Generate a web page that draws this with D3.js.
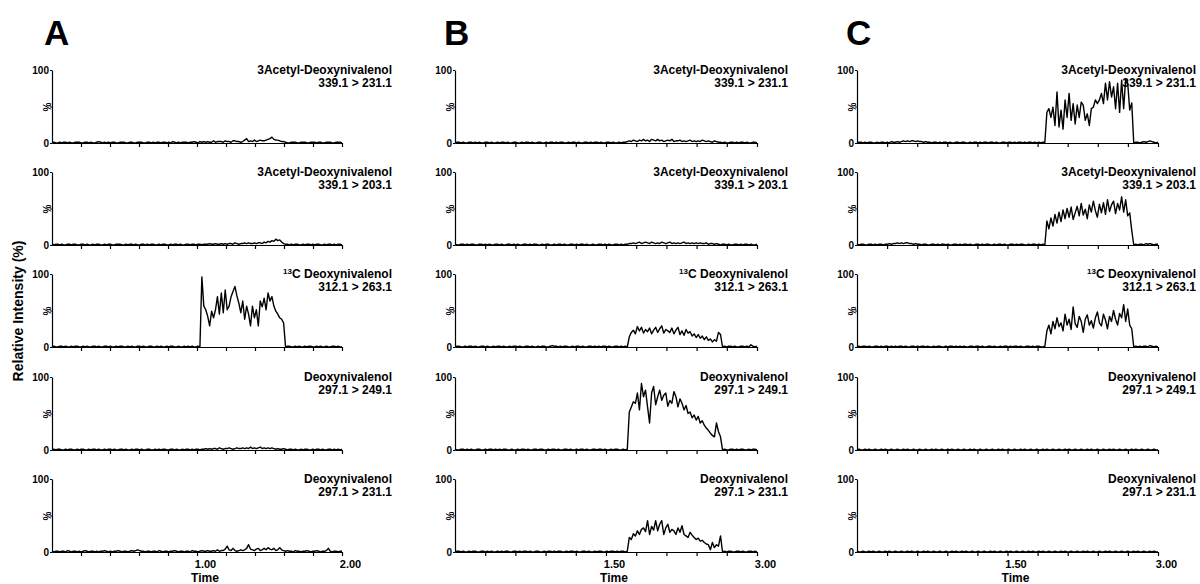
<!doctype html>
<html>
<head>
<meta charset="utf-8">
<style>
    body { margin: 0; background: #fff; }
    svg { font-family: "Liberation Sans", Arial, sans-serif; }
    .trace { fill: none; stroke: #000; stroke-width: 1.4px; stroke-linejoin: round; }
    .axis path, .axis line { stroke: #000; stroke-width: 1.2px; }
    .axis text { font-weight: bold; fill: #000; }
</style>
<script src="https://d3js.org/d3.v7.min.js"></script>
</head>
<body>
<svg width="1200" height="584"></svg>
<script>

var panelLetters = ["A", "B", "C"];
var timeMax = [2, 3, 3];
var labelTicks = [[1, 2], [1.5, 3], [1.5, 3]];
var yTicks = [0, 50, 100];
var compounds = ["3Acetyl-Deoxynivalenol", "3Acetyl-Deoxynivalenol", "13C Deoxynivalenol", "Deoxynivalenol", "Deoxynivalenol"];
var transitions = ["339.1 > 231.1", "339.1 > 203.1", "312.1 > 263.1", "297.1 > 249.1", "297.1 > 231.1"];

var traceA1 = [
    1,1,0,0,1,0,1,1,0,1, 0,0,1,1,1,0,0,1,1,0, 1,0,0,1,2,1,0,1,0,1, 0,1,1,0,0,1,1,1,0,0,
    1,1,0,0,1,1,1,0,0,1, 1,0,1,0,1,1,0,1,1,0, 1,0,2,1,0,1,0,1,1,1, 0,1,1,2,1,0,2,1,2,1,
    2,1,1,3,1,2,2,2,1,3, 2,2,1,3,3,2,2,1,2,4, 6,2,3,2,4,2,3,4,3,3, 4,5,6,8,5,4,4,3,2,2,
    1,0,0,1,1,1,0,0,1,1, 1,0,0,1,1,1,0,1,1,0, 0,1,1,1,0,0,1,1,1,0];
var traceA2 = [
    1,0,1,1,0,1,0,0,1,1, 0,1,1,0,0,1,1,0,1,0, 0,1,0,1,1,0,0,1,0,1, 1,0,0,1,1,1,0,0,1,0,
    1,1,0,1,0,0,1,1,0,1, 0,1,1,0,0,1,0,1,1,0, 0,1,0,1,1,0,1,0,0,1, 1,0,1,1,0,1,1,0,1,1,
    1,2,1,1,2,1,1,2,1,2, 1,2,2,1,3,2,1,2,2,3, 2,3,2,2,3,2,3,3,2,4, 3,5,4,6,5,8,6,7,4,2,
    1,1,0,1,0,1,1,0,0,1, 0,1,1,0,1,0,1,1,0,0, 1,0,1,1,0,1,0,1,1,0];
var traceA3 = [
    0,1,0,0,1,1,0,1,0,0, 1,0,1,1,0,0,1,0,1,0, 0,1,1,0,1,0,0,1,1,0, 1,0,0,1,0,1,1,0,0,1,
    0,1,0,0,1,1,0,1,0,0, 1,1,0,0,1,0,1,0,0,1, 0,1,1,0,0,1,0,0,1,0, 1,0,1,0,0,1,0,
    96,56,51,42,29,49,40,51,69,45, 74,47,78,51,56,69,76,83,70,60, 47,63,38,56,45,29,56,40,51,29,
    63,55,67,51,74,63,69,56,49,45, 40,38,33,
    0,1,1,0,0,1,0,1,0,0, 1,0,1,1,0,0,1,0,1,0, 0,1,0,0,1,1,0,1,0,0];
var traceA4 = [
    0,1,0,1,1,0,0,1,0,1, 1,0,0,1,0,1,1,0,0,1, 0,1,1,0,1,0,0,1,0,1, 1,0,1,0,0,1,1,0,1,0,
    0,1,0,1,1,0,1,0,0,1, 1,0,0,1,0,1,0,1,1,0, 0,1,1,0,1,0,0,1,0,1, 1,0,1,0,1,1,0,1,1,2,
    1,2,1,2,2,1,3,2,1,2, 2,3,2,1,2,3,2,2,3,2, 3,2,4,2,3,2,3,4,2,3, 2,3,2,3,2,1,2,1,1,2,
    1,0,1,1,0,1,0,0,1,0, 1,1,0,0,1,0,1,1,0,1, 0,0,1,1,0,1,0,1,0,1];
var traceA5 = [
    1,0,1,1,0,1,1,0,2,1, 0,1,1,0,1,0,1,2,1,0, 1,1,0,1,0,1,1,2,1,0, 1,0,1,1,2,1,0,1,1,0,
    1,2,1,2,3,2,1,1,0,1, 1,0,1,1,0,2,1,0,1,1, 0,1,1,2,1,0,1,1,0,1, 1,0,2,1,1,0,1,2,1,1,
    2,1,1,2,1,3,1,2,2,4, 8,3,2,5,2,1,2,3,2,3, 5,10,4,3,2,4,5,2,3,5, 3,6,4,3,5,2,3,6,3,2,
    1,2,1,1,0,2,1,1,0,1, 1,2,1,0,1,1,2,1,0,1, 1,2,5,1,0,1,1,0,1,1];

var traceB1 = [
    0,1,1,0,1,0,0,1,1,0, 1,0,1,0,0,1,1,0,1,0, 0,1,0,1,1,0,1,0,0,1, 1,0,0,1,0,1,1,0,1,0,
    0,1,1,0,0,1,0,1,1,0, 1,0,1,1,0,0,1,0,1,1, 0,1,0,0,1,1,0,1,0,1, 1,0,1,0,0,1,1,0,1,0,
    0,1,0,1,1,2,3,2,4,3, 2,4,3,5,3,4,2,5,4,3, 5,3,4,2,3,4,3,5,2,3, 3,4,2,3,2,3,4,2,3,2,
    3,2,4,3,2,3,2,1,3,2, 1,1,0,1,0,0,1,1,0,1, 0,1,1,0,1,0,0,1,1,0];
var traceB2 = [
    1,0,0,1,1,0,1,0,1,1, 0,0,1,1,0,1,0,1,0,0, 1,1,0,1,0,0,1,1,0,1, 0,1,0,0,1,1,0,1,0,1,
    1,0,0,1,0,1,1,0,0,1, 0,1,1,0,1,0,0,1,1,0, 1,0,1,1,0,1,0,0,1,0, 0,1,1,0,1,0,1,0,0,1,
    1,0,1,0,1,1,2,2,3,2, 3,4,2,3,4,3,2,4,3,2, 3,2,4,3,2,3,4,2,3,2, 3,2,3,4,2,3,2,3,2,3,
    2,3,2,2,3,1,2,2,1,2, 1,0,1,1,0,1,0,0,1,1, 0,1,0,1,1,0,1,0,0,1];
var traceB3 = [
    0,1,1,0,0,1,0,1,1,0, 1,0,0,1,1,0,1,0,0,1, 0,1,1,0,1,0,0,1,0,1, 1,0,1,0,0,1,1,0,1,0,
    0,1,0,1,1,0,0,1,2,1, 1,0,1,0,1,1,0,0,1,0, 1,1,0,1,0,0,1,1,0,1, 0,1,0,1,1,0,1,0,0,1,
    1,0,1,0,1,0,
    14,20,23,18,28,22,27,19,24,21, 26,18,23,27,20,25,29,19,24,22, 20,26,18,23,27,17,22,16,24,19,
    21,15,18,13,17,12,15,10,14,9, 11,7,10,8,20,17,
    0,1,0,1,1,0,1,0, 0,1,1,0,1,0,3,1,0,1];
var traceB4 = [
    1,0,0,1,1,0,1,0,1,0, 0,1,1,0,0,1,0,1,1,0, 1,0,1,0,1,1,0,0,1,0, 0,1,0,1,1,0,1,0,0,1,
    1,0,1,1,0,0,1,0,1,1, 0,1,0,0,1,1,0,1,0,0, 1,0,1,1,0,1,0,0,1,1, 0,1,1,0,1,0,0,1,0,1,
    1,0,0,1,0,1,
    52,59,66,64,78,55,91,73,82,59, 37,78,87,62,73,82,68,75,78,60, 68,64,80,73,59,70,64,55,61,50,
    52,44,48,41,46,37,40,34,30,27, 23,20,18,37,25,18,
    0,1,0,0,1,1,0,1, 0,1,1,0,0,1,0,1,1,0];
var traceB5 = [
    0,1,1,0,1,0,0,1,0,1, 1,0,0,1,1,0,1,0,1,0, 0,1,0,1,0,1,1,0,0,1, 1,0,1,0,1,1,0,1,0,0,
    1,1,0,0,1,0,1,1,0,1, 0,1,1,0,0,1,0,1,1,0, 1,0,0,1,1,0,1,0,0,1, 0,1,1,0,0,1,0,1,1,0,
    1,0,1,1,0,1,
    20,17,25,22,29,24,31,33,28,43, 24,35,30,43,29,38,43,24,33,38, 27,31,29,24,33,27,36,24,22,20,
    27,23,20,17,19,15,16,13,11,10, 3,13,6,10,8,22,
    0,1,0,1,1,0,0,1, 1,0,1,0,0,1,1,0,1,0];

var traceC1 = [
    0,1,1,0,1,0,1,1,0,0, 1,0,1,1,0,1,0,2,1,1, 2,1,2,3,2,3,2,3,3,2, 3,2,2,1,2,1,1,0,1,1,
    0,1,0,1,1,0,1,0,0,1, 1,0,1,1,0,0,1,0,1,1, 0,1,0,1,1,0,1,1,0,1, 0,0,1,1,0,1,1,0,1,0,
    1,1,0,1,0,1,1,0,1,0, 1,0,1,1,
    42,47,35,49,24,70,22,45,19,59, 35,68,31,54,26,52,35,56,52,31, 40,24,47,49,59,54,59,68,54,82,
    59,84,63,77,47,82,42,86,47,88, 82,45,55,
    0,1,1, 0,1,2,1,2,3,2,1,0,1];
var traceC2 = [
    1,0,1,1,0,0,1,1,0,1, 0,1,1,0,1,1,2,1,2,2, 3,2,3,2,3,3,2,2,1,2, 1,1,0,1,1,0,0,1,1,0,
    1,0,1,1,0,1,0,0,1,1, 0,1,0,1,1,0,1,0,0,1, 1,0,1,0,1,1,0,0,1,0, 1,1,0,1,0,0,1,1,0,1,
    0,1,1,0,0,1,0,1,1,0, 1,0,1,0,
    33,22,37,26,42,30,45,32,48,36, 50,38,52,35,44,53,40,57,41,49, 36,55,45,60,47,38,56,44,58,42,
    62,46,55,60,43,57,48,66,45,62, 40,44,20,
    0,1,0, 1,1,0,2,1,2,1,0,1,1];
var traceC3 = [
    0,1,0,1,1,0,1,0,0,1, 1,0,1,0,1,1,0,1,0,1, 0,1,1,0,1,0,0,1,1,0, 1,0,1,1,0,1,0,0,1,0,
    1,1,0,0,1,0,1,1,0,1, 0,1,0,1,0,0,1,1,0,1, 1,0,1,0,0,1,1,0,1,0, 0,1,0,1,1,0,1,0,1,1,
    0,1,0,0,1,1,0,1,0,1, 1,0,0,1,
    22,30,18,35,25,40,28,33,22,45, 30,38,24,55,32,27,42,35,20,38, 44,30,36,26,40,48,33,29,45,37,
    25,42,35,50,38,30,46,40,58,35, 52,30,25,
    0,1,0, 1,0,1,1,0,2,1,0,1,0];
var traceC4 = [
    0,1,0,0,1,0,1,0,0,1, 0,0,1,0,1,0,0,1,0,0, 1,0,0,1,0,1,0,0,1,0, 0,1,0,0,1,0,0,1,0,1,
    0,0,1,0,0,1,0,1,0,0, 1,0,0,1,0,0,1,0,1,0, 0,1,0,0,1,0,0,1,0,0, 1,0,1,0,0,1,0,0,1,0,
    0,1,0,1,0,0,1,0,0,1, 0,0,1,0,1,0,0,1,0,0, 1,0,0,1,0,1,0,0,1,0, 0,1,0,0,1,0,1,0,0,1,
    0,0,1,0,0,1,0,1,0,0, 1,0,0,1,0,0,1,0,1,0, 0,1,0,0,1,0,0,1,0,0];
var traceC5 = [
    1,0,0,1,0,0,1,0,1,0, 0,1,0,0,1,0,1,0,0,1, 0,0,1,0,0,1,0,1,0,0, 1,0,0,1,0,1,0,0,1,0,
    0,1,0,0,1,0,0,1,0,1, 0,0,1,0,1,0,0,1,0,0, 1,0,0,1,0,0,1,0,1,0, 0,1,0,0,1,0,1,0,0,1,
    0,0,1,0,0,1,0,1,0,0, 1,0,1,0,0,1,0,0,1,0, 0,1,0,1,0,0,1,0,0,1, 0,0,1,0,1,0,0,1,0,0,
    1,0,0,1,0,1,0,0,1,0, 0,1,0,0,1,0,0,1,0,1, 0,0,1,0,0,1,0,1,0,0];

var traces = [
    [traceA1, traceA2, traceA3, traceA4, traceA5],
    [traceB1, traceB2, traceB3, traceB4, traceB5],
    [traceC1, traceC2, traceC3, traceC4, traceC5]
];

// ---- layout ----
var panelLeft = [52, 455, 857],
    panelWidth = [290, 302, 301],
    titleRight = [392, 788, 1196],
    letterX = [44, 444, 846],
    rowTop = [70, 172, 274, 377, 479],
    rowHeight = 73;

var svg = d3.select("svg");
var fmt = d3.format(".2f");

svg.append("text")
   .attr("transform", "translate(23,311) rotate(-90)")
   .attr("text-anchor", "middle")
   .attr("font-size", "14px")
   .attr("font-weight", "bold")
   .text("Relative Intensity (%)");

panelLetters.forEach(function(letter, p) {
    var tmax = timeMax[p],
        width = panelWidth[p];

    svg.append("text")
       .attr("x", letterX[p])
       .attr("y", 45)
       .attr("font-size", "35px")
       .attr("font-weight", "bold")
       .text(letter);

    var x = d3.scaleLinear().domain([0, tmax]).range([0, width]);
    var tickVals = d3.range(1, 11).map(function(k) { return k * tmax / 10; });

    traces[p].forEach(function(vals, r) {
        var last = r === rowTop.length - 1;
        var y = d3.scaleLinear().domain([0, 100]).range([rowHeight, 0]);
        var g = svg.append("g")
                   .attr("transform", "translate(" + panelLeft[p] + "," + rowTop[r] + ")");

        // x axis
        var xa = g.append("g")
            .attr("class", "axis")
            .attr("transform", "translate(0," + rowHeight + ")")
            .call(d3.axisBottom(x)
                .tickValues(tickVals)
                .tickSize(4)
                .tickSizeOuter(0)
                .tickPadding(4)
                .tickFormat(function(d) {
                    var show = last && labelTicks[p].some(function(v) { return Math.abs(v - d) < 1e-9; });
                    return show ? fmt(d) : "";
                }));
        xa.selectAll("text").attr("x", 8).attr("font-size", "11px");

        // y axis
        var ya = g.append("g")
            .attr("class", "axis")
            .call(d3.axisLeft(y)
                .tickValues(yTicks)
                .tickSize(2)
                .tickSizeOuter(0)
                .tickPadding(1)
                .tickFormat(function(d) { return d === 50 ? "%" : d; }));
        ya.selectAll("text").attr("font-size", "10px");
        ya.selectAll(".tick").filter(function(d) { return d === 50; })
          .select("text")
          .attr("x", null)
          .attr("dy", null)
          .attr("text-anchor", "middle")
          .attr("transform", "translate(-1,0) rotate(-90)");

        // trace
        var line = d3.line()
            .x(function(d, i) { return x(i * tmax / (vals.length - 1)); })
            .y(function(d) { return y(d); });
        g.append("path")
         .datum(vals)
         .attr("class", "trace")
         .attr("d", line);

        // compound + transition
        var tx = titleRight[p] - panelLeft[p];
        var t1 = g.append("text")
                  .attr("x", tx)
                  .attr("y", 4)
                  .attr("text-anchor", "end")
                  .attr("font-size", "12px")
                  .attr("font-weight", "bold");
        var name = compounds[r];
        if (name.indexOf("13C") === 0) {
            t1.append("tspan").attr("font-size", "8px").attr("dy", -4).text("13");
            t1.append("tspan").attr("dy", 4).text(name.slice(2));
        } else {
            t1.text(name);
        }
        g.append("text")
         .attr("x", tx)
         .attr("y", 17)
         .attr("text-anchor", "end")
         .attr("font-size", "12px")
         .attr("font-weight", "bold")
         .text(transitions[r]);

        if (last) {
            g.append("text")
             .attr("x", width / 2 + 8)
             .attr("y", 582 - rowTop[r])
             .attr("text-anchor", "middle")
             .attr("font-size", "12px")
             .attr("font-weight", "bold")
             .text("Time");
        }
    });
});
</script>
</body>
</html>
